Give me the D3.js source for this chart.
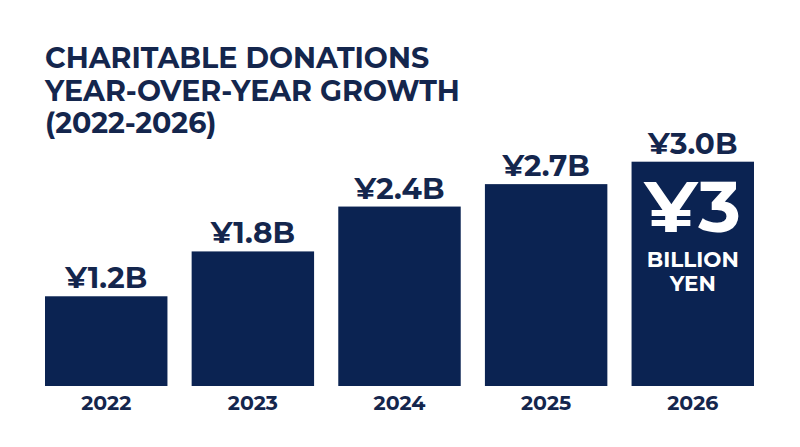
<!DOCTYPE html>
<html>
<head>
<meta charset="utf-8">
<script src="https://cdn.jsdelivr.net/npm/d3@7"></script>
<style>
  body { margin: 0; background: #fff; }
  text { font-family: "Montserrat", "DejaVu Sans", sans-serif; font-weight: bold; }
</style>
</head>
<body>
<svg id="chart"></svg>
<script>
var years = ["2022", "2023", "2024", "2025", "2026"];
var values = [1.2, 1.8, 2.4, 2.7, 3.0];
var valueLabels = ["¥1.2B", "¥1.8B", "¥2.4B", "¥2.7B", "¥3.0B"];
var titleLines = ["CHARITABLE DONATIONS", "YEAR-OVER-YEAR GROWTH", "(2022-2026)"];
var calloutLines = ["¥3", "BILLION", "YEN"];

var svg = d3.select("#chart").attr("width", 800).attr("height", 447),
    navy = "#0b2352",
    ink = "#14264d",
    baseline = 386;

var xScale = d3.scaleBand()
	.domain(years)
	.range([45, 754])
	.paddingInner(0.165)
	.paddingOuter(0);

var yScale = d3.scaleLinear()
	.domain([0, 3.0])
	.range([baseline, 161.7]);

// title
svg.append("g")
	.attr("id", "title")
	.selectAll("text")
	.data(titleLines)
	.enter()
	.append("text")
		.attr("x", 45)
		.attr("y", function(d, i) { return 68 + i*32.5; })
		.attr("fill", ink)
		.style("font-size", "28.5px")
		.text(function(d) { return d; });

var bars = svg.append("g").attr("id", "bars");

bars.selectAll("rect")
	.data(values)
	.enter()
	.append("rect")
		.attr("x", function(d, i) { return xScale(years[i]); })
		.attr("y", function(d) { return yScale(d); })
		.attr("width", xScale.bandwidth())
		.attr("height", function(d) { return baseline - yScale(d); })
		.attr("fill", navy);

bars.selectAll(".value")
	.data(values)
	.enter()
	.append("text")
		.attr("class", "value")
		.attr("x", function(d, i) { return xScale(years[i]) + xScale.bandwidth()/2; })
		.attr("y", function(d) { return yScale(d) - 8; })
		.attr("text-anchor", "middle")
		.attr("fill", ink)
		.style("font-size", "29.5px")
		.text(function(d, i) { return valueLabels[i]; });

// year axis, no line or ticks
var axis = svg.append("g")
	.attr("transform", "translate(0," + baseline + ")")
	.call(d3.axisBottom(xScale).tickSize(0).tickPadding(0));

axis.select(".domain").remove();
axis.selectAll("text")
	.attr("y", 24)
	.attr("dy", 0)
	.attr("fill", ink)
	.style("font-family", "\"Montserrat\", \"DejaVu Sans\", sans-serif")
	.style("font-weight", "bold")
	.style("font-size", "20.5px");

// callout inside the last bar
var last = years[years.length - 1];
var cx = xScale(last) + xScale.bandwidth()/2;
var callout = svg.append("g").attr("id", "callout");

callout.append("text")
	.attr("x", cx)
	.attr("y", 231.7)
	.attr("text-anchor", "middle")
	.attr("fill", "#fff")
	.style("font-size", "72px")
	.text(calloutLines[0]);

callout.selectAll(".sub")
	.data(calloutLines.slice(1))
	.enter()
	.append("text")
		.attr("class", "sub")
		.attr("x", cx)
		.attr("y", function(d, i) { return 266.7 + i*24.3; })
		.attr("text-anchor", "middle")
		.attr("fill", "#fff")
		.style("font-size", "21.5px")
		.text(function(d) { return d; });
</script>
</body>
</html>
